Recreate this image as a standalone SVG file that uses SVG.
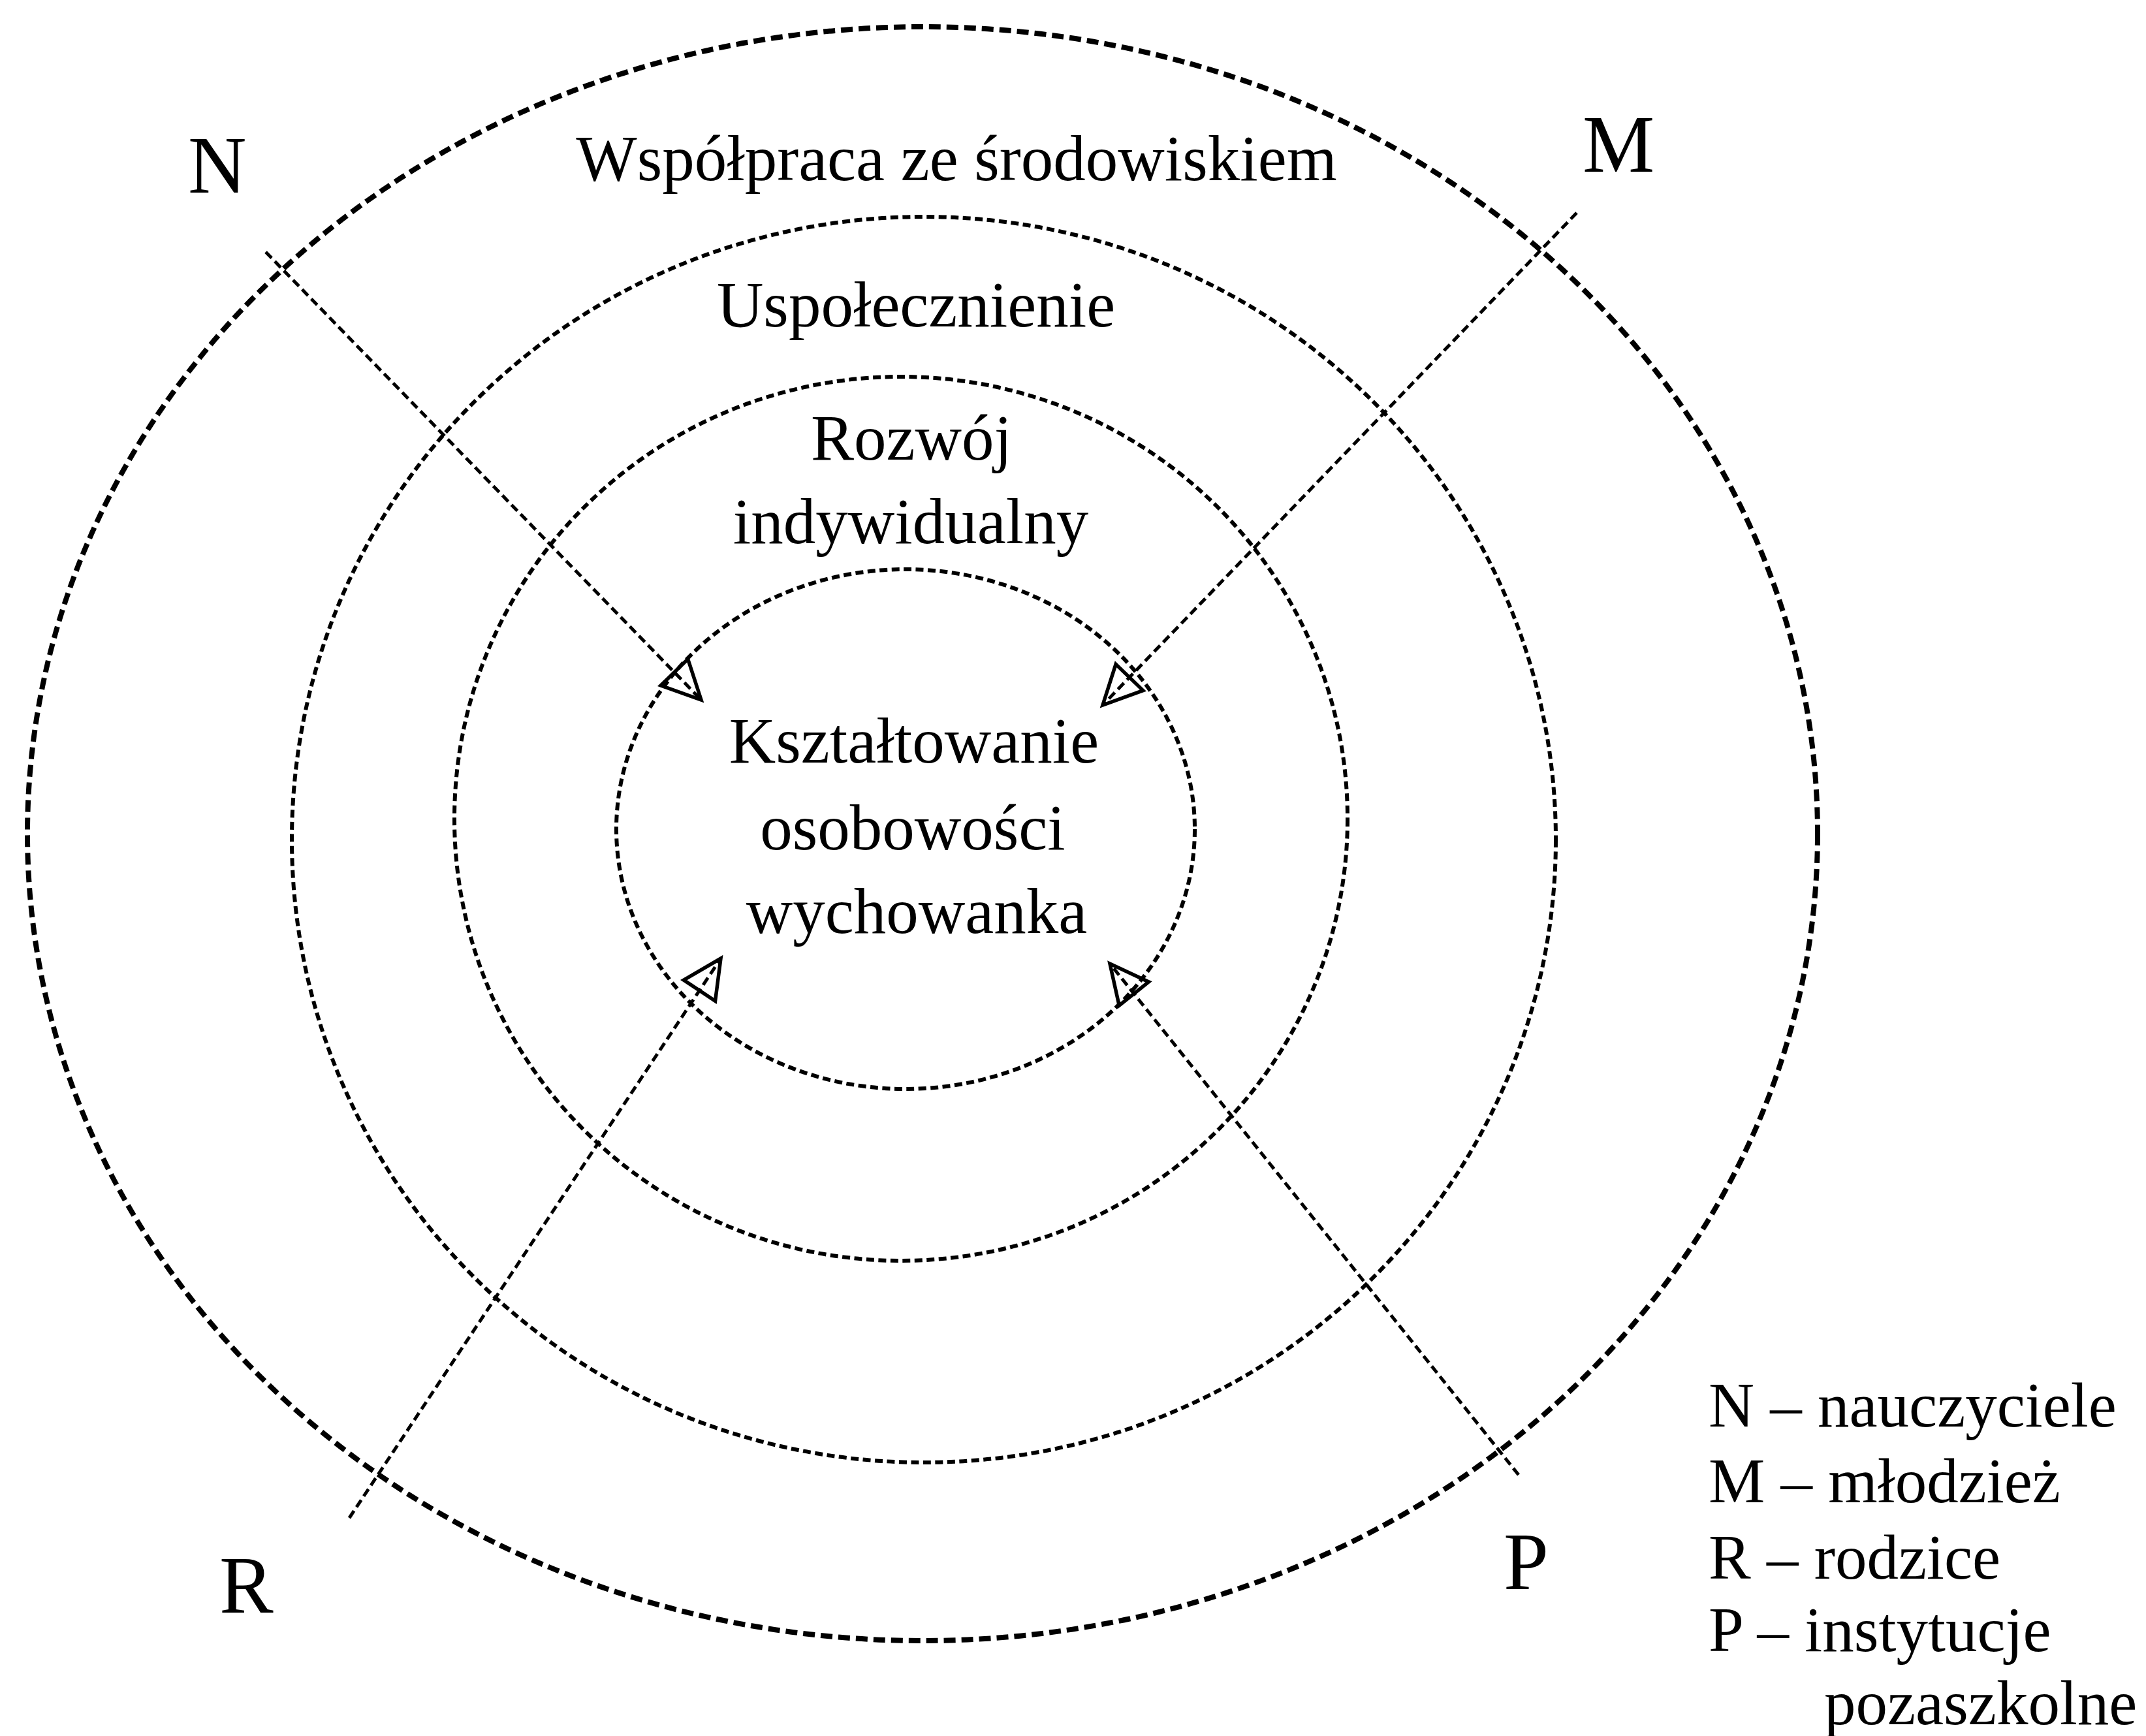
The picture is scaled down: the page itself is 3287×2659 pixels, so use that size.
<svg xmlns="http://www.w3.org/2000/svg" width="3287" height="2659" viewBox="0 0 3287 2659">
  <style>
    .ring { fill: none; stroke: #000; }
    .outer { stroke-width: 8; stroke-dasharray: 18 9; }
    .inner { stroke-width: 6; stroke-dasharray: 12 6.5; }
    .conn { fill: none; stroke: #000; stroke-width: 5; stroke-dasharray: 13 7; marker-end: url(#arrow); }
    text { font-family: "Liberation Serif", "Times New Roman", serif; fill: #000; }
    .lab { font-size: 99px; text-anchor: middle; }
    .big { font-size: 124px; }
    .leg { font-size: 97px; }
  </style>
  <defs>
    <marker id="arrow" markerUnits="userSpaceOnUse" viewBox="-6 -6 72 72" refX="59" refY="30" markerWidth="72" markerHeight="72" orient="auto">
      <path d="M0,1 L59,30 L0,59 Z" fill="none" stroke="#000" stroke-width="5.5" stroke-linejoin="miter" stroke-dasharray="none"/>
    </marker>
  </defs>
  <rect width="3287" height="2659" fill="#fff"/>

  <g id="ring-wspolpraca">
    <ellipse class="ring outer" cx="1413" cy="1277" rx="1371" ry="1236"/>
    <text class="lab" x="1465" y="276">Współpraca ze środowiskiem</text>
  </g>
  <g id="ring-uspolecznienie">
    <ellipse class="ring inner" cx="1415" cy="1286" rx="968" ry="954"/>
    <text class="lab" x="1403" y="500">Uspołecznienie</text>
  </g>
  <g id="ring-rozwoj">
    <ellipse class="ring inner" cx="1380" cy="1254" rx="684" ry="677"/>
    <text class="lab" x="1396" y="704">Rozwój</text>
    <text class="lab" x="1395" y="832">indywidualny</text>
  </g>
  <g id="ring-ksztaltowanie">
    <ellipse class="ring inner" cx="1387" cy="1270" rx="443" ry="398"/>
    <text class="lab" x="1400" y="1168">Kształtowanie</text>
    <text class="lab" x="1398" y="1301">osobowości</text>
    <text class="lab" x="1404" y="1429">wychowanka</text>
  </g>

  <g id="node-N"><text class="big" x="288" y="295">N</text></g>
  <g id="node-M"><text class="big" x="2424" y="263">M</text></g>
  <g id="node-R"><text class="big" x="336" y="2470">R</text></g>
  <g id="node-P"><text class="big" x="2303" y="2434">P</text></g>

  <g id="connectors">
    <line class="conn" x1="407" y1="386" x2="1074" y2="1072"/>
    <line class="conn" x1="2415" y1="326" x2="1689" y2="1080"/>
    <line class="conn" x1="535" y1="2325" x2="1104" y2="1468"/>
    <line class="conn" x1="2326" y1="2259" x2="1700" y2="1476"/>
  </g>

  <g id="legend">
    <text class="leg" x="2617" y="2185">N – nauczyciele</text>
    <text class="leg" x="2617" y="2301">M – młodzież</text>
    <text class="leg" x="2617" y="2418">R – rodzice</text>
    <text class="leg" x="2617" y="2529">P – instytucje</text>
    <text class="leg" x="2794" y="2641">pozaszkolne</text>
  </g>
</svg>
